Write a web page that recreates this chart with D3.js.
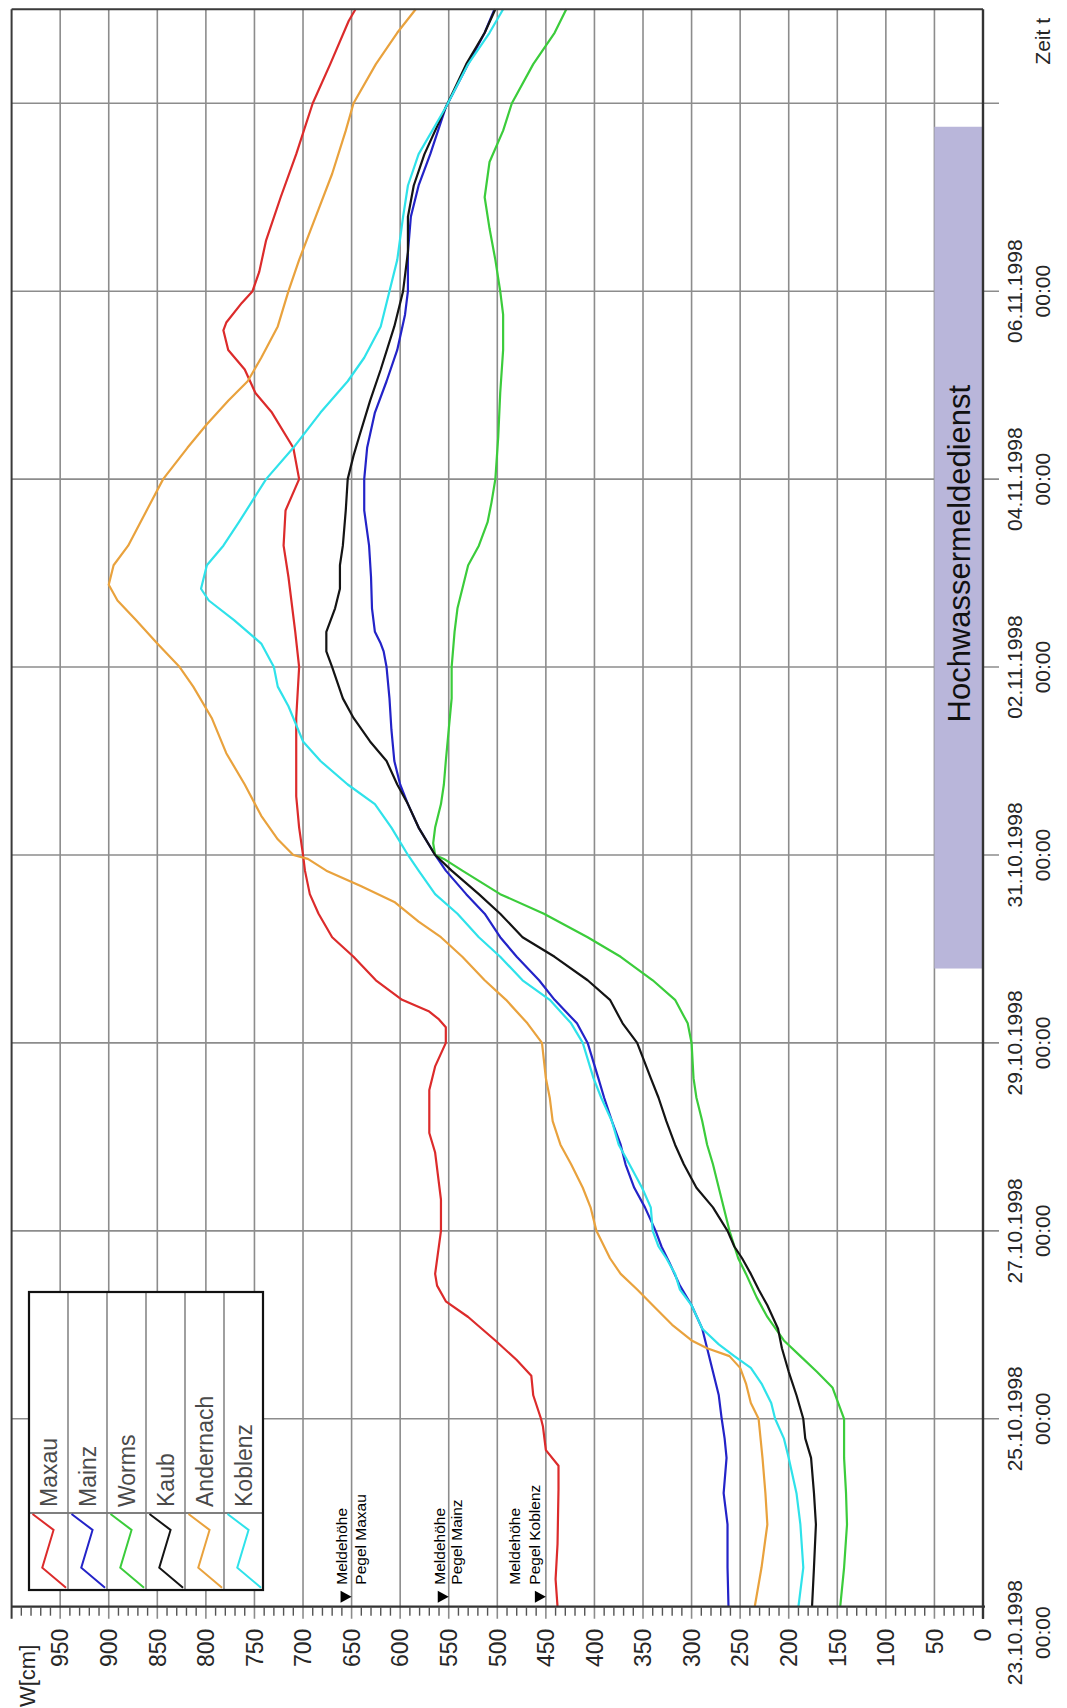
<!DOCTYPE html>
<html>
<head>
<meta charset="utf-8">
<script src="https://cdn.jsdelivr.net/npm/d3@7"></script>
<style>
  body { margin: 0; background: #fff; }
  svg { display: block; }
  text { font-family: "Liberation Sans", Arial, sans-serif; }
</style>
</head>
<body>
<svg id="chart" width="1067" height="1708"></svg>
<script>
// ---- data -------------------------------------------------------------
const startDate = "1998-10-23T00:00";
const endDate = "1998-11-09T00:00";

const stations = ["Maxau", "Mainz", "Worms", "Kaub", "Andernach", "Koblenz"];
const stationColors = ["#dc2b2b", "#2323c8", "#3bcc3b", "#141414", "#e9a23d", "#2fe2ea"];

const valueTicks = d3.range(0, 951, 50);          // W[cm]
const minorValueTicks = d3.range(0, 1001, 10);
const dateTicks = ["1998-10-23", "1998-10-25", "1998-10-27", "1998-10-29",
                   "1998-10-31", "1998-11-02", "1998-11-04", "1998-11-06", "1998-11-08"];
const labelledDateTicks = dateTicks.slice(0, 8);

// gauge readings: [hours after 23.10.1998 00:00, water level in cm]
const maxau = [[0,438],[7,440],[16,438],[30,437],[36,437],[40,450],[46,453],[48,455],[54,463],[59,465],
  [63,480],[68,502],[74,530],[78,553],[82,562],[85,564],[96,558],[104,558],[116,564],[121,570],[132,570],
  [138,564],[144,553],[148,553],[150,560],[152,570],[155,598],[160,625],[166,648],[171,670],[177,684],
  [182,693],[188,698],[192,700],[199,704],[207,707],[216,707],[227,707],[240,704],[249,708],[263,715],
  [271,720],[280,718],[288,704],[296,710],[305,732],[310,749],[316,760],[321,777],[326,782],[328,779],
  [333,763],[336,752],[341,745],[349,738],[360,723],[371,707],[384,690],[394,672],[405,653],[408,646]];

const mainz = [[0,262],[10,263],[21,263],[29,267],[38,264],[43,266],[48,269],[54,272],[60,278],[66,284],
  [71,289],[77,300],[82,312],[88,323],[92,331],[96,337],[102,348],[107,359],[113,368],[118,373],[124,382],
  [130,390],[135,396],[144,407],[149,418],[155,441],[160,457],[166,480],[171,497],[177,513],[182,532],
  [188,553],[192,564],[199,581],[205,592],[210,600],[216,606],[224,609],[232,611],[240,614],[244,617],
  [246,620],[249,626],[255,629],[263,630],[271,632],[280,637],[288,637],[296,634],[305,626],[313,614],
  [321,603],[330,595],[336,592],[346,592],[355,589],[363,581],[371,569],[383,553],[394,530],[402,513],[408,503]];

const worms = [[0,147],[10,143],[21,140],[29,141],[38,143],[48,143],[52,149],[56,155],[60,171],[64,188],
  [68,205],[74,222],[79,233],[85,244],[89,252],[96,261],[102,267],[107,272],[113,278],[118,284],[124,289],
  [130,295],[135,298],[144,300],[149,304],[155,317],[160,340],[166,373],[171,407],[177,452],[182,497],
  [188,536],[191,555],[192,564],[195,566],[199,564],[205,558],[210,555],[216,553],[224,550],[232,547],
  [240,547],[249,544],[255,541],[260,536],[266,530],[271,519],[277,510],[282,506],[288,502],[299,499],
  [310,497],[321,494],[330,494],[336,497],[344,502],[352,508],[360,513],[369,508],[377,494],[384,485],
  [394,463],[402,441],[408,429]];

const kaub = [[0,176],[10,174],[21,172],[29,174],[38,177],[43,183],[48,185],[54,192],[60,200],[66,207],
  [71,211],[77,222],[81,231],[85,239],[89,248],[92,256],[96,263],[102,278],[107,295],[113,308],[118,317],
  [124,326],[130,334],[135,342],[144,356],[149,371],[155,384],[160,407],[166,441],[171,474],[177,497],
  [182,519],[188,547],[192,564],[199,581],[205,592],[210,603],[216,614],[221,631],[227,648],[232,659],
  [240,670],[244,676],[249,676],[255,667],[260,662],[266,662],[271,659],[280,656],[288,654],[294,648],
  [299,642],[308,631],[316,620],[327,606],[336,597],[346,592],[355,592],[363,586],[371,575],[383,553],
  [394,532],[402,513],[408,502]];

const andernach = [[0,235],[10,228],[21,222],[29,224],[38,227],[48,231],[52,239],[57,244],[61,250],[64,261],
  [66,284],[68,300],[72,320],[77,340],[81,356],[85,373],[89,384],[93,392],[96,398],[102,404],[107,412],
  [113,424],[118,435],[124,443],[130,446],[135,450],[144,454],[149,469],[155,491],[160,513],[166,536],
  [171,558],[175,581],[180,606],[184,640],[188,676],[191,695],[192,710],[196,726],[202,743],[210,760],
  [218,779],[227,794],[235,813],[240,827],[246,850],[252,872],[257,891],[261,900],[266,895],[271,880],
  [280,861],[288,844],[296,819],[302,799],[308,777],[313,757],[319,743],[327,726],[336,715],[344,704],
  [355,687],[366,670],[377,656],[384,648],[394,625],[402,603],[408,584]];

const koblenz = [[0,190],[10,185],[21,188],[29,192],[38,200],[43,205],[48,214],[52,218],[57,228],[61,239],
  [64,256],[67,272],[71,289],[77,300],[81,312],[85,317],[89,326],[92,334],[96,340],[102,342],[107,351],
  [113,364],[118,375],[124,382],[130,393],[135,401],[144,412],[149,424],[155,446],[160,474],[166,497],
  [171,519],[177,541],[182,564],[188,581],[192,592],[199,609],[205,626],[210,654],[216,682],[221,700],
  [230,715],[235,726],[240,730],[246,743],[252,771],[257,797],[260,805],[266,799],[271,782],[277,766],
  [288,738],[296,710],[305,682],[313,654],[319,637],[327,620],[336,611],[344,603],[355,597],[363,592],
  [371,581],[383,553],[394,530],[402,508],[408,494]];

const seriesData = [maxau, mainz, worms, kaub, andernach, koblenz];

// warning levels (Meldehöhe) per gauge
const warnPegel = ["Pegel Maxau", "Pegel Mainz", "Pegel Koblenz"];
const warnLevels = [650, 550, 450];

// period of the flood warning service
const serviceStart = "1998-10-29T19:00";
const serviceEnd = "1998-11-07T18:00";
const serviceLabel = "Hochwassermeldedienst";

// ---- scales ------------------------------------------------------------
const parseT = d3.utcParse("%Y-%m-%dT%H:%M");
const parseD = d3.utcParse("%Y-%m-%d");
const t0 = parseT(startDate);

const x = d3.scaleLinear().domain([0, 1000]).range([983, 11.6]);
const y = d3.scaleUtc().domain([t0, parseT(endDate)]).range([1606.7, 9.3]);

const svg = d3.select("#chart");
const axisY = y(t0);                 // value axis sits at the start date
const grid = "#8c8c8c";
const ink = "#262626";

// ---- grid ----------------------------------------------------------------
const gridG = svg.append("g");

// vertical grid lines every 50 cm
gridG.selectAll("line.v").data(valueTicks.filter(d => d > 0)).join("line")
  .attr("x1", d => x(d)).attr("x2", d => x(d))
  .attr("y1", y.range()[1]).attr("y2", axisY + 12)
  .attr("stroke", grid).attr("stroke-width", 1.6);

// horizontal grid lines every two days
gridG.selectAll("line.h").data(dateTicks.slice(1)).join("line")
  .attr("x1", x(1000)).attr("x2", x(0) + 16)
  .attr("y1", d => y(parseD(d))).attr("y2", d => y(parseD(d)))
  .attr("stroke", grid).attr("stroke-width", 1.6);

// ---- flood service band (above the grid, below the curves) ---------------
const bandTop = y(parseT(serviceEnd)), bandBottom = y(parseT(serviceStart));
svg.append("rect")
  .attr("x", x(50)).attr("width", x(0) - x(50) - 1)
  .attr("y", bandTop).attr("height", bandBottom - bandTop)
  .attr("fill", "#b9b6da");
svg.append("text")
  .attr("transform", `translate(${(x(50) + x(0)) / 2},${(bandTop + bandBottom) / 2 + 6}) rotate(-90)`)
  .attr("text-anchor", "middle").attr("dy", "0.36em")
  .attr("font-size", 31).attr("fill", "#111")
  .text(serviceLabel);

// ---- curves ------------------------------------------------------------
const line = d3.line()
  .x(d => x(d[1]))
  .y(d => y(d3.utcHour.offset(t0, d[0])));

svg.append("g").selectAll("path").data(seriesData).join("path")
  .attr("d", line)
  .attr("fill", "none")
  .attr("stroke", (d, i) => stationColors[i])
  .attr("stroke-width", 2.2)
  .attr("stroke-linejoin", "round");

// ---- frame and axes ----------------------------------------------------
const frame = svg.append("g").attr("stroke", "#3a3a3a").attr("stroke-width", 2);
frame.append("line").attr("x1", x(1000)).attr("x2", x(0))
  .attr("y1", y.range()[1]).attr("y2", y.range()[1]);
frame.append("line").attr("x1", x(1000)).attr("x2", x(1000))
  .attr("y1", y.range()[1]).attr("y2", axisY + 12);

// value axis along the start date
const valueAxis = svg.append("g");
valueAxis.append("line").attr("x1", x(1000)).attr("x2", x(0) + 2)
  .attr("y1", axisY).attr("y2", axisY)
  .attr("stroke", "#333").attr("stroke-width", 2.2);
valueAxis.selectAll("line.minor").data(minorValueTicks.filter(d => d % 50 !== 0)).join("line")
  .attr("x1", d => x(d)).attr("x2", d => x(d))
  .attr("y1", axisY).attr("y2", axisY + 9)
  .attr("stroke", "#555").attr("stroke-width", 1.4);
valueAxis.append("line").attr("x1", x(0)).attr("x2", x(0))
  .attr("y1", axisY).attr("y2", axisY + 12)
  .attr("stroke", "#333").attr("stroke-width", 2);
valueAxis.selectAll("text").data(valueTicks).join("text")
  .attr("transform", d => `translate(${x(d)},${axisY + 22}) rotate(-90)`)
  .attr("text-anchor", "end").attr("dy", "0.36em")
  .attr("font-size", 23).attr("fill", ink)
  .text(d => d);
valueAxis.append("text")
  .attr("transform", `translate(${x(1000) + 15},${axisY + 38}) rotate(-90)`)
  .attr("text-anchor", "end").attr("dy", "0.36em")
  .attr("font-size", 22).attr("fill", ink)
  .text("W[cm]");

// time axis along 0 cm
const timeAxis = svg.append("g");
timeAxis.append("line").attr("x1", x(0)).attr("x2", x(0))
  .attr("y1", y.range()[1]).attr("y2", axisY + 12)
  .attr("stroke", "#333").attr("stroke-width", 2.4);
const fmtDate = d3.utcFormat("%d.%m.%Y"), fmtTime = d3.utcFormat("%H:%M");
const tl = timeAxis.selectAll("g.tl").data(labelledDateTicks).join("g")
  .attr("transform", (d, i) => `translate(0,${y(parseD(d)) + (i === 0 ? 26 : 0)})`);
tl.append("text")
  .attr("transform", `translate(${x(0) + 31},0) rotate(-90)`)
  .attr("text-anchor", "middle").attr("dy", "0.36em")
  .attr("font-size", 21).attr("fill", ink)
  .text(d => fmtDate(parseD(d)));
tl.append("text")
  .attr("transform", `translate(${x(0) + 59},0) rotate(-90)`)
  .attr("text-anchor", "middle").attr("dy", "0.36em")
  .attr("font-size", 21).attr("fill", ink)
  .text(d => fmtTime(parseD(d)));
timeAxis.append("text")
  .attr("transform", `translate(${x(0) + 59},${y.range()[1] + 32}) rotate(-90)`)
  .attr("text-anchor", "middle").attr("dy", "0.36em")
  .attr("font-size", 21).attr("fill", ink)
  .text("Zeit t");

// ---- warning level markers -----------------------------------------------
const textOffsets = [[-5, 14], [-4, 13], [-26, -6]];
const warn = svg.append("g").selectAll("g").data(warnLevels).join("g")
  .attr("transform", d => `translate(${x(d)},0)`);
warn.append("path")
  .attr("d", `M0,${axisY - 10}L-11,${axisY - 16}L-11,${axisY - 4}Z`)
  .attr("fill", "#000");
warn.append("text")
  .attr("transform", (d, i) => `translate(${textOffsets[i][0]},${axisY - 22}) rotate(-90)`)
  .attr("font-size", 15.5).attr("fill", "#000")
  .text("Meldehöhe");
warn.append("text")
  .attr("transform", (d, i) => `translate(${textOffsets[i][1]},${axisY - 22}) rotate(-90)`)
  .attr("font-size", 15.5).attr("fill", "#000")
  .text((d, i) => warnPegel[i]);

// ---- legend --------------------------------------------------------------
const lg = { x0: 29, x1: 263, y0: 1292, ySplit: 1513, y1: 1590 };
const colW = (lg.x1 - lg.x0) / stations.length;
const legend = svg.append("g");
legend.append("rect")
  .attr("x", lg.x0).attr("y", lg.y0)
  .attr("width", lg.x1 - lg.x0).attr("height", lg.y1 - lg.y0)
  .attr("fill", "#fff");
legend.append("line").attr("x1", lg.x0).attr("x2", lg.x1)
  .attr("y1", lg.ySplit).attr("y2", lg.ySplit)
  .attr("stroke", "#555").attr("stroke-width", 1.4);
legend.selectAll("line.col").data(d3.range(1, stations.length)).join("line")
  .attr("x1", i => lg.x0 + i * colW).attr("x2", i => lg.x0 + i * colW)
  .attr("y1", lg.y0).attr("y2", lg.y1)
  .attr("stroke", "#777").attr("stroke-width", 1.4);
const swH = lg.y1 - lg.ySplit;
legend.selectAll("path").data(stations).join("path")
  .attr("d", (d, i) => {
    const c = lg.x0 + i * colW;
    return d3.line()([[c + 0.09 * colW, lg.ySplit + 1], [c + 0.63 * colW, lg.ySplit + 0.22 * swH],
                      [c + 0.34 * colW, lg.ySplit + 0.71 * swH], [c + 0.95 * colW, lg.ySplit + 0.97 * swH]]);
  })
  .attr("fill", "none").attr("stroke", (d, i) => stationColors[i]).attr("stroke-width", 2);
legend.selectAll("text").data(stations).join("text")
  .attr("transform", (d, i) => `translate(${lg.x0 + (i + 0.5) * colW},${lg.ySplit - 6}) rotate(-90)`)
  .attr("dy", "0.36em").attr("font-size", 23).attr("fill", "#4a4a4a")
  .text(d => d);
legend.append("rect")
  .attr("x", lg.x0).attr("y", lg.y0)
  .attr("width", lg.x1 - lg.x0).attr("height", lg.y1 - lg.y0)
  .attr("fill", "none").attr("stroke", "#111").attr("stroke-width", 2.2);
</script>
</body>
</html>
